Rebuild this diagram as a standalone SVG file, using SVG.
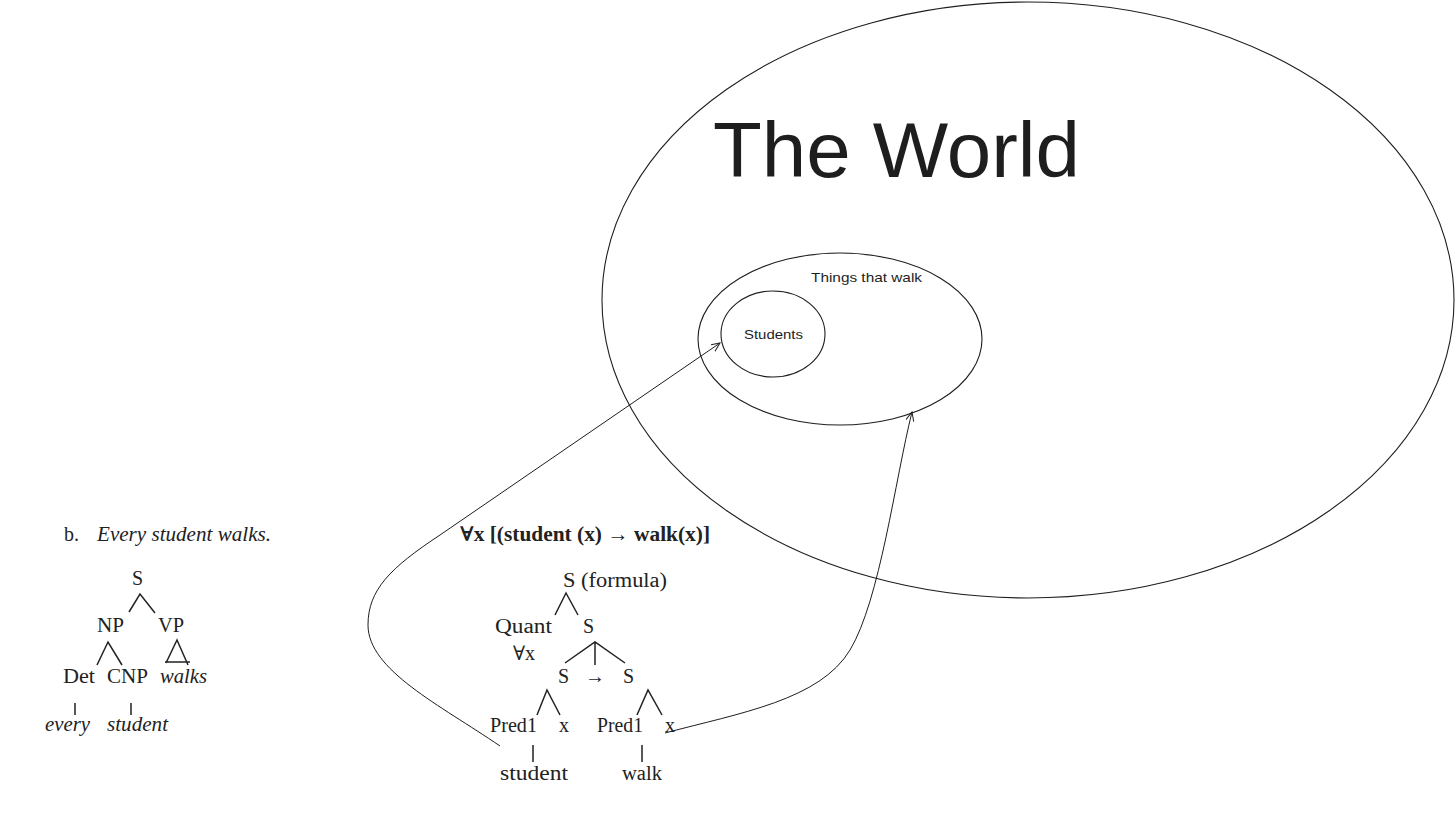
<svg xmlns="http://www.w3.org/2000/svg" width="1456" height="813" viewBox="0 0 1456 813">
<defs>
<style>
.sh{fill:none;stroke:#1e1e1e;stroke-width:1.1}
.hand{font-family:"Liberation Sans","DejaVu Sans",sans-serif;fill:#1e1e1e}
.ser{font-family:"Liberation Serif","DejaVu Serif",serif;font-size:20px;fill:#222}
.it{font-style:italic}
.bd{font-weight:bold}
.tl{fill:none;stroke:#222;stroke-width:1.5}
.conn{fill:none;stroke:#1e1e1e;stroke-width:1}
</style>
<marker id="ah" markerUnits="userSpaceOnUse" markerWidth="12" markerHeight="10" refX="9" refY="4" orient="auto">
<path d="M0,0 L9,4 L0,8" fill="none" stroke="#1e1e1e" stroke-width="1"/>
</marker>
</defs>
<rect width="1456" height="813" fill="#fff"/>

<g id="world">
<ellipse class="sh" cx="1028" cy="300" rx="426" ry="298"/>
<text class="hand" x="713" y="177" font-size="78" textLength="367" lengthAdjust="spacingAndGlyphs">The World</text>
</g>

<g id="things-that-walk">
<ellipse class="sh" cx="840" cy="339" rx="142" ry="86"/>
<text class="hand" x="811" y="282" font-size="13" textLength="111" lengthAdjust="spacingAndGlyphs">Things that walk</text>
</g>

<g id="students">
<ellipse class="sh" cx="773" cy="334" rx="52" ry="43"/>
<text class="hand" x="744" y="339" font-size="13" textLength="59" lengthAdjust="spacingAndGlyphs">Students</text>
</g>

<g id="tree-b">
<text class="ser" x="64" y="541" font-size="17">b.</text>
<text class="ser it" x="97" y="541" font-size="19" textLength="174" lengthAdjust="spacingAndGlyphs">Every student walks.</text>
<text class="ser" x="132" y="585">S</text>
<path class="tl" d="M129,612 L140,594 L155,613"/>
<text class="ser" x="97" y="632" textLength="27" lengthAdjust="spacingAndGlyphs">NP</text>
<text class="ser" x="158" y="632" textLength="26" lengthAdjust="spacingAndGlyphs">VP</text>
<path class="tl" d="M97,665 L108,642 L122,665"/>
<path class="tl" d="M166,663 L177,640 L188,665 M165,662 L190,662"/>
<text class="ser" x="63" y="683" textLength="32" lengthAdjust="spacingAndGlyphs">Det</text>
<text class="ser" x="107" y="683" textLength="41" lengthAdjust="spacingAndGlyphs">CNP</text>
<text class="ser it" x="160" y="683" textLength="47" lengthAdjust="spacingAndGlyphs">walks</text>
<path class="tl" d="M75,703 L75,715 M131,703 L131,715"/>
<text class="ser it" x="45" y="731" textLength="45" lengthAdjust="spacingAndGlyphs">every</text>
<text class="ser it" x="107" y="731" textLength="61" lengthAdjust="spacingAndGlyphs">student</text>
</g>

<g id="tree-formula">
<text class="ser bd" x="460" y="541" font-size="19" textLength="250" lengthAdjust="spacingAndGlyphs">∀x [(student (x) → walk(x)]</text>
<text class="ser" x="563" y="587" textLength="104" lengthAdjust="spacingAndGlyphs">S (formula)</text>
<path class="tl" d="M555,615 L566,593 L578,615"/>
<text class="ser" x="495" y="633" textLength="57" lengthAdjust="spacingAndGlyphs">Quant</text>
<text class="ser" x="583" y="633">S</text>
<text class="ser" x="513" y="660">∀x</text>
<path class="tl" d="M565,663 L595,642 L625,663 M595,642 L595,665"/>
<text class="ser" x="558" y="683">S</text>
<text class="ser" x="585" y="683" font-size="16">→</text>
<text class="ser" x="623" y="683">S</text>
<path class="tl" d="M537,715 L547,690 L560,715"/>
<path class="tl" d="M637,715 L648,690 L662,715"/>
<text class="ser" x="490" y="732" textLength="47" lengthAdjust="spacingAndGlyphs">Pred1</text>
<text class="ser" x="559" y="732">x</text>
<text class="ser" x="597" y="732" textLength="46" lengthAdjust="spacingAndGlyphs">Pred1</text>
<text class="ser" x="665" y="732">x</text>
<path class="tl" d="M533,745 L533,762 M642,745 L642,762"/>
<text class="ser" x="500" y="780" textLength="68" lengthAdjust="spacingAndGlyphs">student</text>
<text class="ser" x="622" y="780" textLength="40" lengthAdjust="spacingAndGlyphs">walk</text>
</g>

<g id="connectors">
<path class="conn" d="M500,746 C440,705 368,670 368,625 C368,590 390,568 440,535 L720,343" marker-end="url(#ah)"/>
<path class="conn" d="M665,733 C740,713 820,700 850,650 C880,600 895,480 912,412" marker-end="url(#ah)"/>
</g>
</svg>
